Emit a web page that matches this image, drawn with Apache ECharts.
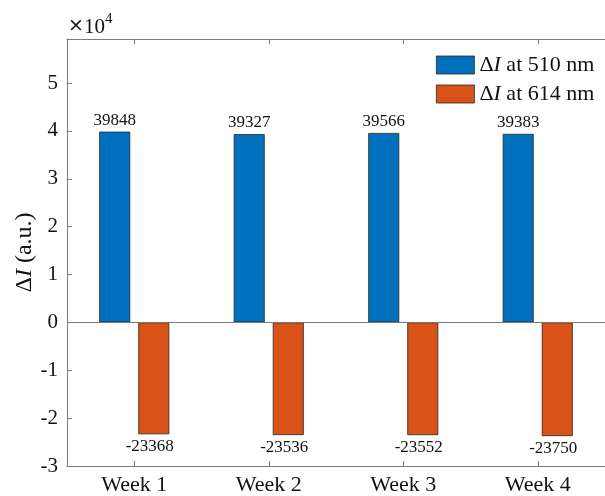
<!DOCTYPE html>
<html>
<head>
<meta charset="utf-8">
<script src="https://cdn.jsdelivr.net/npm/echarts@6/dist/echarts.min.js"></script>
<style>html,body{margin:0;padding:0;background:#fff;}#c{width:605px;height:496px;}</style>
</head>
<body>
<div id="c"></div>
<script>
const categories = ['Week 1', 'Week 2', 'Week 3', 'Week 4'];
const seriesNames = ['ΔI at 510 nm', 'ΔI at 614 nm'];
const values510 = [39848, 39327, 39566, 39383];
const values614 = [-23368, -23536, -23552, -23750];
const yMin = -30000, yMax = 59200, yStep = 10000;

const FF = '"Liberation Serif", "DejaVu Serif", serif';
const TXT = '#111';
const AX = '#7a7a7a';
const EDGE = '#262626';

const chart = echarts.init(document.getElementById('c'), null, {renderer: 'canvas'});
const richLbl = (size, lh) => ({
  n: {fontFamily: FF, fontSize: size, color: TXT, lineHeight: lh},
  i: {fontFamily: FF, fontSize: size, color: TXT, fontStyle: 'italic', lineHeight: lh}
});
const deltaRich = (name) => '{n|Δ}{i|I}{n|' + name.slice(2) + '}';

chart.setOption({
  animation: false,
  backgroundColor: '#fff',
  grid: {left: 67, top: 39, width: 544, height: 430, containLabel: false},
  legend: {
    orient: 'vertical', left: 436, top: 54, padding: 0,
    itemWidth: 38, itemHeight: 18, itemGap: 7,
    icon: 'rect',
    data: seriesNames,
    itemStyle: {borderColor: EDGE, borderWidth: 0.8},
    formatter: deltaRich,
    textStyle: {fontFamily: FF, fontSize: 22, color: TXT, lineHeight: 18, rich: richLbl(22, 18)}
  },
  graphic: [
    {type: 'text', left: 68, top: 17, style: {text: '×', fontFamily: '"DejaVu Serif", serif', fontSize: 19, fill: TXT}},
    {type: 'text', left: 84, top: 17, style: {text: '10', fontFamily: FF, fontSize: 21, fill: TXT}},
    {type: 'text', left: 105, top: 12, style: {text: '4', fontFamily: FF, fontSize: 15, fill: TXT}}
  ],
  xAxis: [
    {
      type: 'category', data: categories, position: 'bottom', boundaryGap: true,
      axisLine: {show: true, onZero: false, lineStyle: {color: AX, width: 1}},
      axisTick: {show: true, inside: true, alignWithLabel: true, length: 5, lineStyle: {color: AX}},
      axisLabel: {fontFamily: FF, fontSize: 22, color: TXT, margin: 8},
      splitLine: {show: false}
    },
    {
      type: 'category', data: categories, position: 'top', boundaryGap: true,
      axisLine: {show: true, onZero: false, lineStyle: {color: AX, width: 1}},
      axisTick: {show: true, inside: true, alignWithLabel: true, length: 5, lineStyle: {color: AX}},
      axisLabel: {show: false},
      splitLine: {show: false}
    }
  ],
  yAxis: {
    type: 'value', min: yMin, max: yMax, interval: yStep,
    name: deltaRich('ΔI (a.u.)'),
    nameLocation: 'middle', nameGap: 30, nameMoveOverlap: false,
    nameTextStyle: {fontFamily: FF, fontSize: 24, color: TXT, rich: richLbl(24)},
    axisLine: {show: true, lineStyle: {color: AX, width: 1}},
    axisTick: {show: true, inside: true, length: 5, lineStyle: {color: AX}},
    axisLabel: {
      fontFamily: FF, fontSize: 21, color: TXT, margin: 9, showMaxLabel: false,
      formatter: (v) => (v % yStep === 0 ? String(v / yStep) : '')
    },
    splitLine: {show: false}
  },
  series: [
    {
      name: seriesNames[0], type: 'bar', data: values510,
      barWidth: 31, barGap: '26%',
      itemStyle: {color: '#0072BD', borderColor: EDGE, borderWidth: 0.8},
      label: {show: true, position: 'top', distance: 3, fontFamily: FF, fontSize: 17, color: TXT},
      markLine: {
        silent: true, symbol: 'none', animation: false,
        data: [{yAxis: 0}],
        lineStyle: {color: AX, type: 'solid', width: 1},
        label: {show: false}
      }
    },
    {
      name: seriesNames[1], type: 'bar', data: values614,
      barWidth: 31, barGap: '26%',
      itemStyle: {color: '#D95319', borderColor: EDGE, borderWidth: 0.8},
      label: {show: true, position: 'bottom', distance: 4, offset: [-4, 0], fontFamily: FF, fontSize: 17, color: TXT}
    }
  ]
});
</script>
</body>
</html>
